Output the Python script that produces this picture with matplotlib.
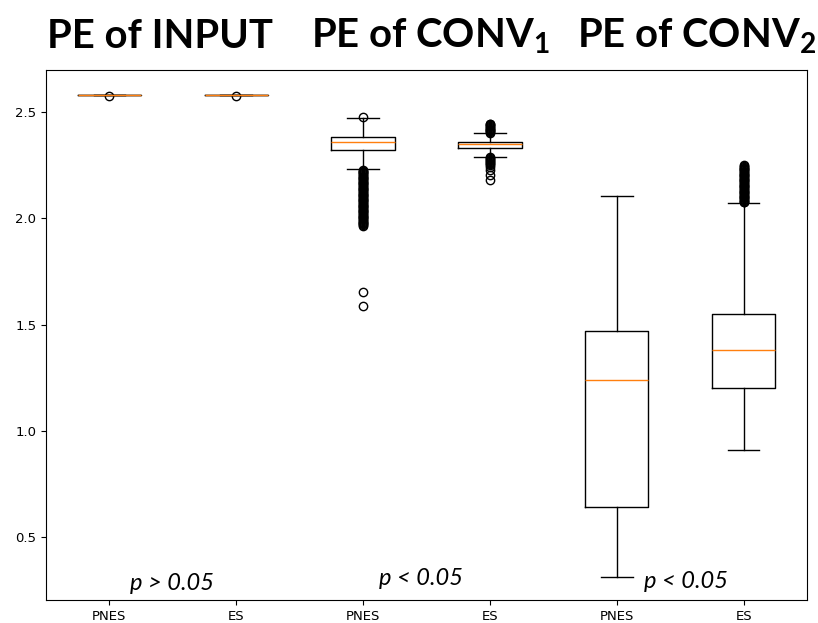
import matplotlib
matplotlib.use("Agg")
import matplotlib.pyplot as plt

labels = ["PNES", "ES", "PNES", "ES", "PNES", "ES"]
medians = [2.580, 2.580, 2.357, 2.350, 1.237, 1.381]
q1s = [2.579, 2.579, 2.321, 2.332, 0.643, 1.201]
q3s = [2.581, 2.581, 2.383, 2.360, 1.468, 1.549]
whis_lo = [2.579, 2.579, 2.234, 2.289, 0.311, 0.909]
whis_hi = [2.581, 2.581, 2.470, 2.401, 2.104, 2.072]
fliers = [
    [2.577],
    [2.577],
    [2.476,
     2.228, 2.224, 2.220, 2.216, 2.212, 2.208, 2.204, 2.200, 2.196, 2.192,
     2.188, 2.184, 2.180, 2.176, 2.172, 2.168, 2.164, 2.160, 2.156, 2.152,
     2.148, 2.144, 2.140, 2.136, 2.132, 2.128, 2.124, 2.120, 2.116, 2.112,
     2.108, 2.104, 2.100, 2.096, 2.092, 2.088, 2.084, 2.080, 2.076, 2.072,
     2.068, 2.064, 2.060, 2.056, 2.052, 2.048, 2.044, 2.040, 2.036, 2.032,
     2.028, 2.024, 2.020, 2.016, 2.012, 2.008, 2.004, 2.000, 1.996, 1.992,
     1.988, 1.984, 1.980, 1.976, 1.972, 1.968, 1.965,
     1.651, 1.585],
    [2.446, 2.442, 2.438, 2.434, 2.430, 2.426, 2.422, 2.418, 2.414, 2.410,
     2.406, 2.403,
     2.287, 2.283, 2.279, 2.275, 2.271, 2.267, 2.262, 2.257, 2.25, 2.24,
     2.225, 2.205, 2.18],
    [],
    [2.250, 2.246, 2.242, 2.238, 2.234, 2.230, 2.226, 2.222, 2.218, 2.214,
     2.210, 2.206, 2.202, 2.198, 2.194, 2.190, 2.186, 2.182, 2.178, 2.174,
     2.170, 2.166, 2.162, 2.158, 2.154, 2.150, 2.146, 2.142, 2.138, 2.134,
     2.130, 2.126, 2.122, 2.118, 2.114, 2.110, 2.106, 2.102, 2.098, 2.094,
     2.090, 2.086, 2.082, 2.078, 2.075],
]
titles = ["PE of INPUT", "PE of CONV$_{1}$", "PE of CONV$_{2}$"]
pvals = ["p > 0.05", "p < 0.05", "p < 0.05"]

plt.rcParams["mathtext.fontset"] = "custom"
plt.rcParams["mathtext.rm"] = "Lato:bold"
plt.rcParams["mathtext.it"] = "Lato:bold"
plt.rcParams["mathtext.bf"] = "Lato:bold"
plt.rcParams["mathtext.default"] = "rm"

fig = plt.figure(figsize=(8.18, 6.23), dpi=100)
ax = fig.add_axes([0.0562, 0.0369, 0.9304, 0.8507])

stats = []
for i in range(len(labels)):
    stats.append(dict(med=medians[i], q1=q1s[i], q3=q3s[i],
                      whislo=whis_lo[i], whishi=whis_hi[i],
                      fliers=fliers[i], label=labels[i]))
ax.bxp(stats, positions=range(1, 7), widths=0.5,
       flierprops=dict(marker="o", markerfacecolor="none", markeredgecolor="black"))
ax.set_xlim(0.5, 6.5)
ax.set_ylim(0.203, 2.698)
ax.set_yticks([0.5, 1.0, 1.5, 2.0, 2.5])
ax.tick_params(labelsize=9.5)

title_x = [160, 430, 697]
for t, x in zip(titles, title_x):
    fig.text(x / 818, 1 - 48 / 623, t, ha="center", va="baseline",
             fontsize=28.8, fontweight="bold", family="Lato")

p_x = [172, 421, 686]
p_y = [590, 585, 588]
for t, x, y in zip(pvals, p_x, p_y):
    fig.text(x / 818, 1 - y / 623, t, ha="center", va="baseline",
             fontsize=17, style="italic", family="Lato")

fig.savefig("out.png", dpi=100)
